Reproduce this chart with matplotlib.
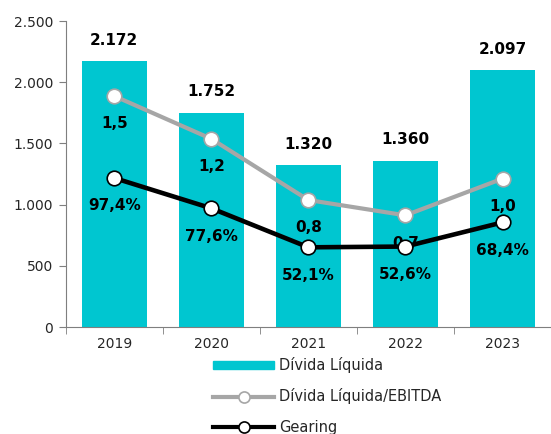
import matplotlib
matplotlib.use("Agg")
import matplotlib.pyplot as plt
from matplotlib.lines import Line2D
import matplotlib.patches as mpatches
from matplotlib.ticker import FuncFormatter, FixedLocator

plt.rcParams["font.family"] = ["DejaVu Sans"]

years = ["2019", "2020", "2021", "2022", "2023"]
divida_liquida = [2172, 1752, 1320, 1360, 2097]
divida_ebitda = [1.51, 1.23, 0.83, 0.73, 0.97]
gearing = [97.4, 77.6, 52.1, 52.6, 68.4]  # %

BAR_COLOR = "#00C6D0"
GREY = "#A6A6A6"
SPINE = "#7F7F7F"


def pt(v):
    return f"{v:,.0f}".replace(",", ".")


fig = plt.figure(figsize=(5.51, 4.34), dpi=100)
ax = fig.add_axes([0.1192, 0.2465, 0.881, 0.705])
x = list(range(len(years)))

ax.bar(x, divida_liquida, width=0.667, color=BAR_COLOR, zorder=2)
for xi, v in zip(x, divida_liquida):
    ax.annotate(pt(v), (xi, v), xytext=(0, 15), textcoords="offset points",
                ha="center", va="center", fontsize=11, fontweight="bold")

ax.set_xlim(-0.5, 4.5)
ax.set_ylim(0, 2500)
ax.set_yticks(range(0, 2501, 500))
ax.yaxis.set_major_formatter(FuncFormatter(lambda v, p: pt(v)))
ax.set_xticks(x)
ax.set_xticklabels(years)
ax.xaxis.set_minor_locator(FixedLocator([-0.5, 0.5, 1.5, 2.5, 3.5, 4.5]))
ax.tick_params(axis="x", which="major", length=0, pad=7, labelsize=10, labelcolor="#262626")
ax.tick_params(axis="x", which="minor", length=5, color=SPINE, direction="out")
ax.tick_params(axis="y", length=5, color=SPINE, labelsize=10, pad=4, labelcolor="#262626")
for s in ["top", "right"]:
    ax.spines[s].set_visible(False)
for s in ["left", "bottom"]:
    ax.spines[s].set_color(SPINE)

# secondary (hidden) scale for the ratios
ax2 = ax.twinx()
ax2.set_ylim(0, 2)
ax2.axis("off")
ax2.set_xlim(-0.5, 4.5)

mk = dict(marker="o", markersize=10.5, markerfacecolor="white", markeredgewidth=1.2)
ax2.plot(x, divida_ebitda, color=GREY, lw=3, markeredgecolor=GREY, zorder=3, **mk)
ax2.plot(x, [g / 100 for g in gearing], color="black", lw=3.3, markeredgecolor="black",
         zorder=4, **mk)

for xi, v in zip(x, divida_ebitda):
    ax2.annotate(f"{v:.1f}".replace(".", ","), (xi, v), xytext=(0, -20),
                 textcoords="offset points", ha="center", va="center",
                 fontsize=11, fontweight="bold")
for xi, g in zip(x, gearing):
    ax2.annotate(f"{g:.1f}%".replace(".", ","), (xi, g / 100), xytext=(0, -20),
                 textcoords="offset points", ha="center", va="center",
                 fontsize=11, fontweight="bold")

lmk = dict(marker="o", markersize=8, markerfacecolor="white", markeredgewidth=1.2)
handles = [
    mpatches.Patch(color=BAR_COLOR, label="Dívida Líquida"),
    Line2D([], [], color=GREY, lw=3, markeredgecolor=GREY, **lmk, label="Dívida Líquida/EBITDA"),
    Line2D([], [], color="black", lw=3, markeredgecolor="black", **lmk, label="Gearing"),
]
fig.legend(handles=handles, loc="upper left", bbox_to_anchor=(213 / 551, 1 - 357 / 434),
           frameon=False, fontsize=10.5, handlelength=4.2, handleheight=0.5,
           handletextpad=0.35, labelspacing=1.05, borderpad=0, borderaxespad=0,
           labelcolor="#262626")

fig.savefig("out.png", dpi=100)
